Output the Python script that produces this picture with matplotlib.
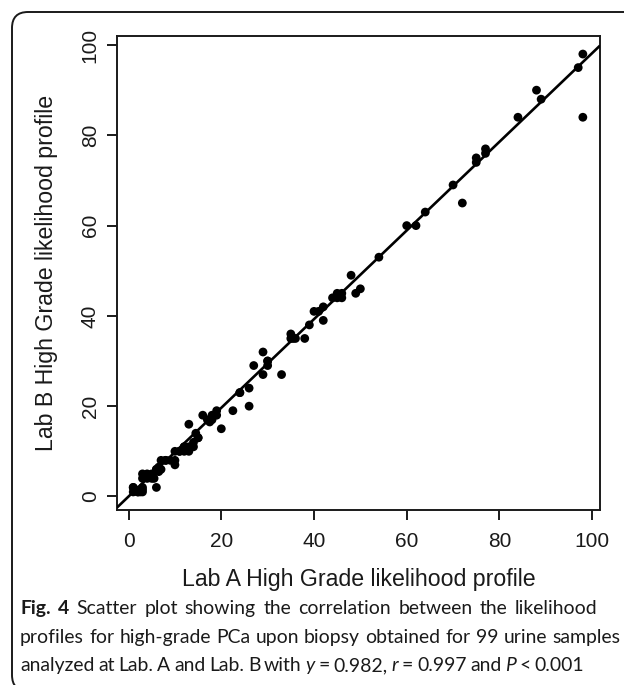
import numpy as np
import matplotlib
matplotlib.use("Agg")
import matplotlib.pyplot as plt
from matplotlib.patches import FancyBboxPatch
from matplotlib.transforms import IdentityTransform

# ---------------- data ----------------
lab_a = [1, 1, 1.5, 2, 3, 3, 2.5, 6, 3, 3, 3.5, 4, 5, 5.5, 6, 6.5, 7, 6.5, 7, 8,
         9, 10, 10, 11, 12, 12, 13, 13, 14, 13, 14.5, 15, 14, 16, 17, 17.5, 18, 19, 18.5, 20,
         22.5, 24, 26, 26, 27, 29, 29, 30, 30, 33, 35, 35, 35.5, 38, 39, 41, 42, 42, 45, 45,
         46, 46, 48, 49, 50, 54, 60, 62, 64, 70, 72, 75, 75, 77, 77, 84, 88, 89, 97, 98,
         98, 2, 3, 1, 4, 5, 6, 8, 10, 11, 12, 15, 18, 19, 24, 30, 36, 40, 44]
lab_b = [2, 1, 1.5, 1, 1.5, 2, 1, 2, 5, 4, 4.5, 4, 4, 4, 6, 5.5, 6, 6.5, 8, 8,
         8, 7, 8, 10, 10, 11, 11, 10, 11, 16, 14, 13, 12, 18, 17, 16.5, 18, 19, 18, 15,
         19, 23, 24, 20, 29, 32, 27, 30, 29, 27, 35, 36, 35, 35, 38, 41, 42, 39, 45, 44,
         44, 45, 49, 45, 46, 53, 60, 60, 63, 69, 65, 75, 74, 77, 76, 84, 90, 88, 95, 98,
         84, 1, 1, 2, 5, 5, 6, 8, 10, 10, 11, 13, 17, 18, 23, 30, 35, 41, 44]
slope = 0.982
x_ticks = [0, 20, 40, 60, 80, 100]
y_ticks = [0, 20, 40, 60, 80, 100]
x_label = "Lab A High Grade likelihood profile"
y_label = "Lab B High Grade likelihood profile"

caption_lines = [
    [("Fig. 4", "bold", "normal"),
     ("Scatter plot showing the correlation between the likelihood", "normal", "normal")],
    [("profiles for high-grade PCa upon biopsy obtained for 99 urine samples", "normal", "normal")],
    [("analyzed at Lab. A and Lab. B with", "normal", "normal"),
     ("y", "normal", "italic"), ("= 0.982,", "normal", "normal"),
     ("r", "normal", "italic"), ("= 0.997 and", "normal", "normal"),
     ("P", "normal", "italic"), ("< 0.001", "normal", "normal")],
]

# ---------------- figure ----------------
W, H = 624, 685
plt.rcParams['font.family'] = ['Liberation Sans', 'DejaVu Sans']
fig = plt.figure(figsize=(W / 100, H / 100), dpi=100)

# rounded frame around the figure (pixel coordinates, origin bottom-left)
frame = FancyBboxPatch((12, -6), 720, H - 12 + 6,
                       boxstyle="round,pad=0,rounding_size=16",
                       transform=IdentityTransform(), fill=False,
                       edgecolor="#1a1a1a", linewidth=1.4)
fig.add_artist(frame)

ax = fig.add_axes([117 / W, (H - 510) / H, (600 - 117) / W, (510 - 36) / H])
ax.set_xlim(-2.5, 101.7)
ax.set_ylim(-3, 102)

ax.scatter(lab_a, lab_b, s=40, color="black", edgecolors="none", zorder=3)
xl = np.array(ax.get_xlim())
ax.plot(xl, slope * xl, color="black", linewidth=1.9, zorder=4, solid_capstyle="butt")
ax.set_xlim(-2.5, 101.7)
ax.set_ylim(-3, 102)

for sp in ax.spines.values():
    sp.set_linewidth(1.4)
    sp.set_color("#1a1a1a")

ax.set_xticks(x_ticks)
ax.set_yticks(y_ticks)
ax.tick_params(axis="both", direction="out", length=7.5, width=1.4,
               labelsize=15, color="#1a1a1a", labelcolor="#1a1a1a")
ax.tick_params(axis="x", pad=8)
ax.tick_params(axis="y", pad=5)
for lbl in ax.get_yticklabels():
    lbl.set_rotation(90)
    lbl.set_va("center")

ax.set_xlabel(x_label, fontsize=16.7, color="#1a1a1a", labelpad=12.5)
ax.set_ylabel(y_label, fontsize=16.7, color="#1a1a1a", labelpad=16)

# ---------------- caption ----------------
cap_family = ['Lato', 'DejaVu Sans']
renderer = fig.canvas.get_renderer()


def text_w(s, size, weight, style):
    t = fig.text(0, 0, s, fontsize=size, fontweight=weight, fontstyle=style,
                 family=cap_family, transform=IdentityTransform())
    ww = t.get_window_extent(renderer).width
    t.remove()
    return ww


def adv(s, size, weight="normal", style="normal"):
    return text_w("|" + s + "|", size, weight, style) - text_w("||", size, weight, style)


def words_of(segs):
    out = []
    for s, wt, st in segs:
        for w in s.split(" "):
            out.append((w, wt, st))
    return out


ref_size = 10.0
left = 20
ends = [600, 620, 577]
nat2 = sum(adv(w, ref_size, wt, st) for w, wt, st in words_of(caption_lines[1]))
nat2 += (len(words_of(caption_lines[1])) - 1) * adv(" ", ref_size)
cap_size = ref_size * (ends[1] - left) / nat2
space = adv(" ", cap_size)

baselines = [614, 643, 671]
for segs, base, end in zip(caption_lines, baselines, ends):
    words = words_of(segs)
    widths = [adv(w, cap_size, wt, st) for w, wt, st in words]
    gap = (end - left - sum(widths)) / (len(words) - 1)
    gap = min(max(gap, 0.75 * space), 1.45 * space)
    x = left
    for (w, wt, st), ww in zip(words, widths):
        fig.text(x, H - base, w, fontsize=cap_size, fontweight=wt, fontstyle=st,
                 family=cap_family, color="#1a1a1a", ha="left", va="baseline",
                 transform=IdentityTransform())
        x += ww + gap

fig.savefig("out.png", dpi=100)
